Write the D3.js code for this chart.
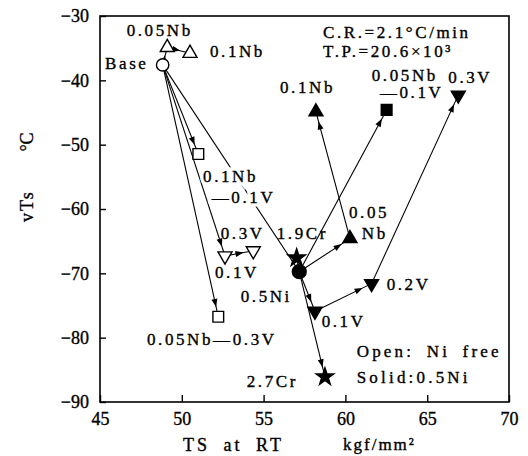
<!DOCTYPE html>
<html><head><meta charset="utf-8">
<script src="https://cdn.jsdelivr.net/npm/d3@7"></script>
<style>body{margin:0;background:#fff} svg{display:block}</style>
</head><body>
<svg id="c" width="528" height="456"></svg>
<script>
// ---- data ----
const pointNames = ["Base","o0.05Nb","o0.1Nb","o0.1Nb-0.1V","o0.1V","o0.3V","o0.05Nb-0.3V",
  "s0.5Ni","s1.9Cr","s2.7Cr","s0.05Nb","s0.1Nb","s0.05Nb-0.1V","s0.1V","s0.2V","s0.3V"];
const pointTS  = [48.83,49.11,50.50,51.01,52.64,54.37,52.23, 57.18,57.02,58.75,60.28,58.20,62.52,58.14,61.60,66.90];
const pointVTs = [-37.6,-34.9,-35.8,-51.45,-67.3,-66.5,-76.75, -69.75,-67.6,-86.1,-64.6,-44.9,-44.6,-75.9,-71.6,-42.3];
const pointShape = ["circle","up","up","square","down","down","square",
  "circle","star","star","up","up","square","down","down","down"];
const pointSolid = [0,0,0,0,0,0,0, 1,1,1,1,1,1,1,1,1];

const segFrom  = ["Base","o0.05Nb","Base","Base","o0.1V","Base","Base",
  "s0.5Ni","s0.5Ni","s0.5Ni","s0.05Nb","s0.5Ni","s0.5Ni","s0.1V","s0.2V"];
const segTo    = ["o0.05Nb","o0.1Nb","o0.1Nb-0.1V","o0.1V","o0.3V","o0.05Nb-0.3V","s0.5Ni",
  "s1.9Cr","s2.7Cr","s0.05Nb","s0.1Nb","s0.05Nb-0.1V","s0.1V","s0.2V","s0.3V"];
const segArrow = [1,1,1,1,1,1,0, 0,1,1,1,1,1,1,1];

const labelText = ["0.05Nb","0.1Nb","Base","0.1Nb","\u20140.1V","0.3V","0.1V","0.05Nb\u20140.3V",
  "1.9Cr","0.05","Nb","0.5Ni","0.1V","0.2V","2.7Cr","0.1Nb","0.05Nb","0.3V","\u20140.1V",
  "C.R.=2.1\u00B0C/min","T.P.=20.6\u00D710\u00B3","Open: Ni free","Solid:0.5Ni"];
const labelTS  = [46.63,51.72,45.31,51.30,51.83,52.38,52.03,47.87,
  55.80,60.22,61.00,53.60,58.55,62.52,53.97,56.00,61.61,66.29,62.11,
  58.63,58.63,60.69,60.69];
const labelVTs = [-33.11,-36.33,-38.24,-55.76,-59.12,-64.71,-70.68,-81.14,
  -64.71,-61.40,-64.71,-74.41,-78.30,-72.59,-87.62,-42.02,-40.10,-40.42,-42.80,
  -33.47,-36.33,-82.96,-87.10];
const labelHalo = [0,0,0,1,1,0,0,0, 0,0,0,0,0,0,0,0,0,0,0, 0,0,0,0];
const labelWide = [0,0,0,0,0,0,0,0, 0,0,0,0,0,0,0,0,0,0,0, 0,0,1,1];

const xTicks = [45,50,55,60,65,70];
const yTicks = [-30,-40,-50,-60,-70,-80,-90];

// ---- drawing ----
const svg = d3.select("#c");
const X0=100, X1=509, Y0=402, Y1=16;
const x = d3.scaleLinear().domain([45,70]).range([X0,X1]);
const y = d3.scaleLinear().domain([-90,-30]).range([Y0,Y1]);
const serif = "'Liberation Serif','DejaVu Serif',serif";
const ink = sel => sel.attr("fill","#000").attr("stroke","#000").attr("stroke-width",0.35);

// frame
svg.append("rect").attr("x",X0).attr("y",Y1).attr("width",X1-X0).attr("height",Y0-Y1)
  .attr("fill","none").attr("stroke","#000").attr("stroke-width",1.6);

const fmt = d => d<0 ? "\u2212"+Math.abs(d) : String(d);
const gy = svg.append("g").attr("transform",`translate(${X0},0)`)
  .call(d3.axisLeft(y).tickValues(yTicks).tickSizeInner(-6).tickSizeOuter(0).tickPadding(11).tickFormat(fmt));
const gx = svg.append("g").attr("transform",`translate(0,${Y0})`)
  .call(d3.axisBottom(x).tickValues(xTicks).tickSizeInner(-7).tickSizeOuter(0).tickPadding(10).tickFormat(fmt));
[gx,gy].forEach(g=>{
  g.select(".domain").remove();
  g.selectAll("line").attr("stroke","#000").attr("stroke-width",1.4);
  g.selectAll("text").attr("font-family",serif).attr("font-size",18).call(ink);
});

// axis titles
svg.append("text").attr("transform","translate(33,206) rotate(-90)").attr("text-anchor","middle")
  .attr("font-family",serif).attr("font-size",18).attr("letter-spacing",2).call(ink).text("vTs");
svg.append("text").attr("transform","translate(33,142) rotate(-90)").attr("text-anchor","middle")
  .attr("font-family",serif).attr("font-size",18).call(ink).text("\u00B0C");
svg.append("text").attr("x",183).attr("y",451).attr("font-family",serif).attr("font-size",18)
  .attr("letter-spacing",3).attr("word-spacing",6).call(ink).text("TS at RT");
svg.append("text").attr("x",343).attr("y",450).attr("font-family",serif).attr("font-size",17)
  .attr("letter-spacing",2).call(ink).text("kgf/mm\u00B2");

// points lookup
const pts = pointNames.map((n,i)=>({name:n, ts:pointTS[i], v:pointVTs[i], shape:pointShape[i], solid:pointSolid[i]}));
const byName = Object.fromEntries(pts.map(p=>[p.name,p]));

// segments
const segs = segFrom.map((f,i)=>({a:byName[f], b:byName[segTo[i]], arrow:segArrow[i]}));
const gl = svg.append("g");
gl.selectAll("line").data(segs).join("line")
  .attr("x1",d=>x(d.a.ts)).attr("y1",d=>y(d.a.v))
  .attr("x2",d=>x(d.b.ts)).attr("y2",d=>y(d.b.v))
  .attr("stroke","#000").attr("stroke-width",1.1);

// arrowheads
gl.selectAll("path.arr").data(segs.filter(s=>s.arrow)).join("path").attr("class","arr")
  .attr("d",d=>{
    const x0=x(d.a.ts), y0=y(d.a.v), x1=x(d.b.ts), y1=y(d.b.v);
    const L=Math.hypot(x1-x0,y1-y0), ux=(x1-x0)/L, uy=(y1-y0)/L;
    const back = Math.min(10, L*0.45);
    const tx=x1-ux*back, ty=y1-uy*back;
    const len=8, hw=3;
    const bx=tx-ux*len, by=ty-uy*len;
    return `M${tx},${ty}L${bx-uy*hw},${by+ux*hw}L${bx+uy*hw},${by-ux*hw}Z`;
  }).attr("fill","#000");

// labels
const labs = labelText.map((t,i)=>({t, ts:labelTS[i], v:labelVTs[i], halo:labelHalo[i], wide:labelWide[i]}));
const gt = svg.append("g");
gt.selectAll("text.halo").data(labs.filter(d=>d.halo)).join("text").attr("class","halo")
  .attr("x",d=>x(d.ts)).attr("y",d=>y(d.v))
  .attr("font-family",serif).attr("font-size",17).attr("letter-spacing",2.6)
  .attr("fill","#fff").attr("stroke","#fff").attr("stroke-width",7)
  .text(d=>d.t);
gt.selectAll("text.lab").data(labs).join("text").attr("class","lab")
  .attr("x",d=>x(d.ts)).attr("y",d=>y(d.v))
  .attr("font-family",serif).attr("font-size",17)
  .attr("letter-spacing",d=>d.wide?3.2:2.6).attr("word-spacing",d=>d.wide?5:0)
  .call(ink)
  .text(d=>d.t);

// markers
const symType = {circle:d3.symbolCircle, up:d3.symbolTriangle, down:d3.symbolTriangle, square:d3.symbolSquare, star:d3.symbolStar};
const symSize = {circle:120, up:85, down:85, square:115, star:95};
svg.append("g").selectAll("path").data(pts).join("path")
  .attr("transform",d=>`translate(${x(d.ts)},${y(d.v)})`+(d.shape==="down"?" rotate(180)":""))
  .attr("d",d=>d3.symbol(symType[d.shape], d.solid && d.shape==="circle" ? 150 : symSize[d.shape])())
  .attr("fill",d=>d.solid?"#000":"#fff")
  .attr("stroke","#000").attr("stroke-width",1.4);
</script>
</body></html>
